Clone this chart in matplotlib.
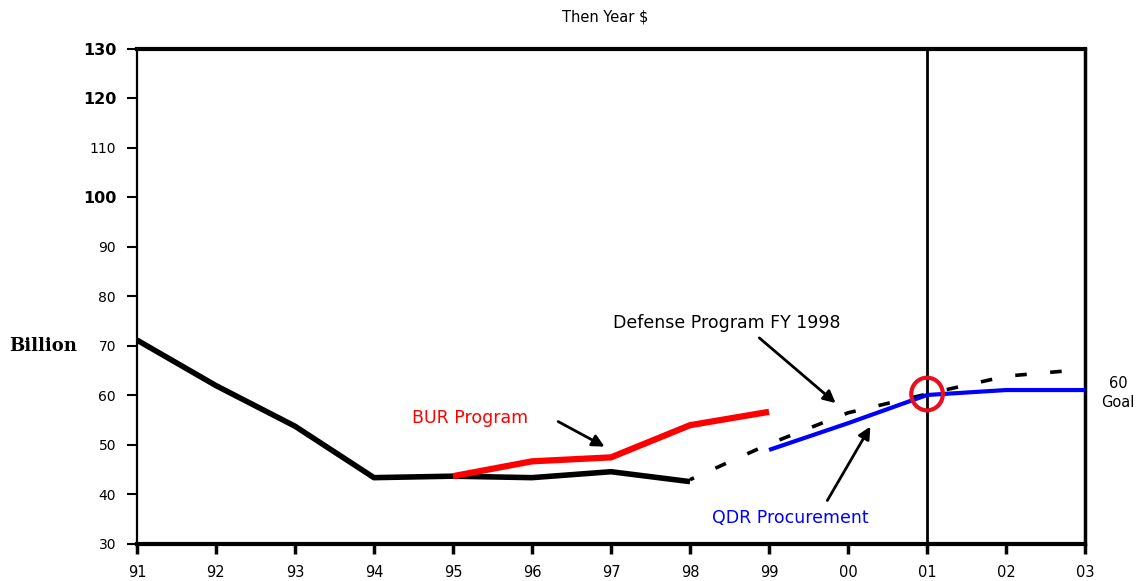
import matplotlib
matplotlib.use("Agg")
import matplotlib.pyplot as plt
from matplotlib.patches import Ellipse

plt.rcParams['font.family'] = ['DejaVu Sans']

years = list(range(13))
year_labels = ["91", "92", "93", "94", "95", "96", "97", "98", "99", "00", "01", "02", "03"]

actual_x = [0, 1, 2, 3, 4, 5, 6, 7]
actual_y = [71.2, 62.0, 53.8, 43.4, 43.7, 43.4, 44.6, 42.6]

bur_x = [4, 5, 6, 7, 8]
bur_y = [43.7, 46.7, 47.5, 54.0, 56.7]

dp98_x = [7, 8, 9, 10, 11, 12]
dp98_y = [43.0, 50.2, 56.5, 60.3, 63.9, 65.3]

qdr_x = [8, 9, 10, 11, 12]
qdr_y = [49.0, 54.4, 60.1, 61.1, 61.1]

goal_x = 10
goal_y = 60.3

yticks = [30, 40, 50, 60, 70, 80, 90, 100, 110, 120, 130]
bold_ticks = {100, 120, 130}

fig = plt.figure(figsize=(11.41, 5.81), dpi=100)
ax = fig.add_axes([0.120, 0.0637, 0.831, 0.852])

ax.plot(dp98_x, dp98_y, color='black', lw=2.6, linestyle=(2, (3.2, 6.5)), zorder=2)
ax.plot(actual_x, actual_y, color='black', lw=4.0, zorder=3, solid_capstyle='butt')
ax.plot(bur_x, bur_y, color='#ff0000', lw=4.5, zorder=4, solid_capstyle='butt')
ax.plot(qdr_x, qdr_y, color='#0000ff', lw=3.0, zorder=4, solid_capstyle='butt')

ax.axvline(goal_x, color='black', lw=2.0, zorder=1)

ax.add_patch(Ellipse((goal_x, goal_y), width=0.40, height=6.6, fill=False,
                     edgecolor='#e8101e', lw=3.0, zorder=6))

ax.set_xlim(0, 12)
ax.set_ylim(30, 130)
ax.set_xticks(years)
ax.set_xticklabels(year_labels, fontsize=10.5)
ax.set_yticks(yticks)
ax.set_yticklabels([str(t) for t in yticks], fontsize=10)
for lbl, t in zip(ax.get_yticklabels(), yticks):
    if t in bold_ticks:
        lbl.set_fontweight('bold')
        lbl.set_fontsize(11.5)

ax.tick_params(axis='y', direction='out', length=7, width=1.5, pad=8)
ax.tick_params(axis='x', direction='out', length=7, width=2.5, pad=8)

ax.spines['left'].set_linewidth(1.6)
ax.spines['top'].set_linewidth(3.0)
ax.spines['bottom'].set_linewidth(3.0)
ax.spines['right'].set_linewidth(2.5)

fig.text(0.008, ax.transData.transform((0, 70))[1] / fig.bbox.height, "Billion",
         fontsize=13, fontweight='bold', family=['DejaVu Serif'], va='center', ha='left')

fig.text(0.530, 0.970, "Then Year $", fontsize=10.5, ha='center', va='center')

ax.text(7.47, 74.6, "Defense Program FY 1998", fontsize=12.5, ha='center', va='center')
ax.annotate("", xy=(8.87, 58.1), xytext=(7.85, 72.0),
            arrowprops=dict(arrowstyle='-|>', color='black', lw=2.0, mutation_scale=18))

ax.text(4.22, 55.5, "BUR Program", fontsize=12.5, color='#ff0000', ha='center', va='center')
ax.annotate("", xy=(5.95, 49.4), xytext=(5.30, 55.0),
            arrowprops=dict(arrowstyle='-|>', color='black', lw=2.0, mutation_scale=18))

ax.text(8.27, 35.3, "QDR Procurement", fontsize=12.5, color='#0000ff', ha='center', va='center')
ax.annotate("", xy=(9.30, 54.2), xytext=(8.72, 38.3),
            arrowprops=dict(arrowstyle='-|>', color='black', lw=2.0, mutation_scale=18))

ax.text(12.42, 60.5, "60\nGoal", fontsize=10.5, ha='center', va='center', clip_on=False,
        linespacing=1.4)

fig.savefig("out.png", dpi=100)
